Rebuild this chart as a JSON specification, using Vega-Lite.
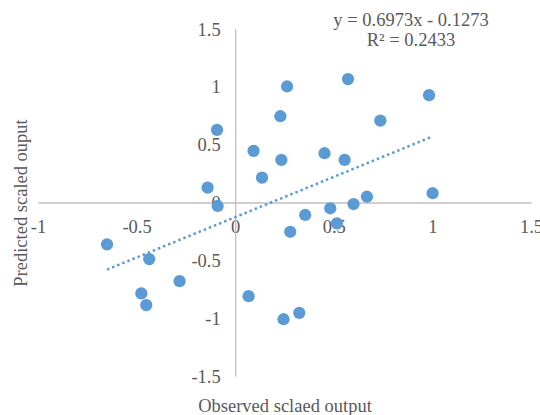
{
  "$schema": "https://vega.github.io/schema/vega-lite/v6.json",
  "autosize": {"type": "none"},
  "width": 493,
  "height": 347,
  "padding": {"left": 38, "top": 29, "right": 9, "bottom": 39},
  "background": "white",
  "title": {
    "text": ["y = 0.6973x - 0.1273", "R² = 0.2433"],
    "font": "Liberation Serif",
    "fontSize": 18.5,
    "fontWeight": "normal",
    "color": "#595959",
    "anchor": "middle",
    "frame": "group",
    "dx": 126.5,
    "dy": 44,
    "lineHeight": 20,
    "baseline": "alphabetic",
    "offset": 0
  },
  "config": {
    "view": {"stroke": null},
    "axis": {
      "labelFont": "Liberation Serif",
      "labelFontSize": 18.5,
      "labelColor": "#595959",
      "titleFont": "Liberation Serif",
      "titleFontSize": 18.5,
      "titleFontWeight": "normal",
      "titleColor": "#595959",
      "domainColor": "#bfbfbf",
      "domainWidth": 1.3,
      "ticks": false,
      "tickSize": 0,
      "grid": false
    }
  },
  "datasets": {
    "points": [
      {"obs": -0.092, "pred": 0.628},
      {"obs": 0.093, "pred": 0.446},
      {"obs": 0.136, "pred": 0.215},
      {"obs": -0.140, "pred": 0.128},
      {"obs": -0.089, "pred": -0.030},
      {"obs": 0.263, "pred": 1.003},
      {"obs": 0.572, "pred": 1.067},
      {"obs": 0.983, "pred": 0.928},
      {"obs": 0.229, "pred": 0.746},
      {"obs": 0.736, "pred": 0.708},
      {"obs": 0.234, "pred": 0.368},
      {"obs": 0.453, "pred": 0.426},
      {"obs": 0.555, "pred": 0.368},
      {"obs": 1.001, "pred": 0.080},
      {"obs": 0.668, "pred": 0.050},
      {"obs": 0.600, "pred": -0.013},
      {"obs": 0.482, "pred": -0.050},
      {"obs": 0.355, "pred": -0.108},
      {"obs": 0.279, "pred": -0.253},
      {"obs": 0.516, "pred": -0.180},
      {"obs": 0.245, "pred": -1.009},
      {"obs": 0.325, "pred": -0.954},
      {"obs": -0.650, "pred": -0.362},
      {"obs": -0.436, "pred": -0.489},
      {"obs": -0.282, "pred": -0.680},
      {"obs": -0.476, "pred": -0.786},
      {"obs": -0.451, "pred": -0.887},
      {"obs": 0.068, "pred": -0.810}
    ],
    "trend": [
      {"obs": -0.650, "pred": -0.580},
      {"obs": 1.001, "pred": 0.571}
    ]
  },
  "layer": [
    {
      "data": {"name": "trend"},
      "mark": {"type": "line", "color": "#5b9bd5", "strokeWidth": 2.5, "strokeDash": [2.5, 3]},
      "encoding": {
        "x": {
          "field": "obs", "type": "quantitative",
          "scale": {"domain": [-1, 1.5], "nice": false, "zero": false},
          "axis": {
            "orient": "bottom", "offset": -173.5,
            "values": [-1, -0.5, 0, 0.5, 1, 1.5],
            "labelExpr": "'' + datum.value",
            "labelPadding": 15,
            "labelFlush": false,
            "labelOverlap": false,
            "title": "Observed sclaed output",
            "titleBaseline": "alphabetic",
            "titleY": 209
          }
        },
        "y": {
          "field": "pred", "type": "quantitative",
          "scale": {"domain": [-1.5, 1.5], "nice": false, "zero": false},
          "axis": {
            "orient": "left", "offset": -197.2,
            "values": [-1.5, -1, -0.5, 0, 0.5, 1, 1.5],
            "labelExpr": "'' + datum.value",
            "labelPadding": 15,
            "labelFlush": false,
            "labelOverlap": false,
            "title": "Predicted scaled ouput",
            "titleBaseline": "alphabetic",
            "titleX": -209,
            "titleY": 173.5,
            "titleAngle": -90
          }
        }
      }
    },
    {
      "data": {"name": "points"},
      "mark": {"type": "circle", "color": "#5b9bd5", "opacity": 1, "size": 150},
      "encoding": {
        "x": {"field": "obs", "type": "quantitative"},
        "y": {"field": "pred", "type": "quantitative"}
      }
    }
  ]
}
